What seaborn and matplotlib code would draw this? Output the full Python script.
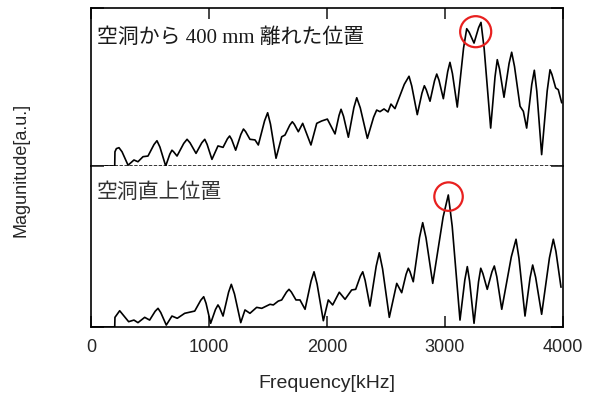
import matplotlib
matplotlib.use("Agg")
import matplotlib.pyplot as plt
import pandas as pd
import seaborn as sns

# ---- data: (frequency kHz, magnitude a.u.) ----
far_points = [
    (0, 0), (201, 0), (203, 0.09), (215, 0.11), (237, 0.116), (263, 0.09), (314, 0.005),
    (364, 0.038), (398, 0.027), (441, 0.059), (483, 0.063), (534, 0.136), (559, 0.16),
    (584, 0.12), (633, 0.0), (668, 0.075), (686, 0.10), (700, 0.09), (729, 0.063),
    (786, 0.143), (814, 0.169), (839, 0.147), (890, 0.08), (939, 0.147), (964, 0.169),
    (984, 0.137), (1025, 0.042), (1076, 0.127), (1119, 0.118), (1156, 0.172), (1175, 0.19),
    (1192, 0.168), (1226, 0.10), (1270, 0.2), (1292, 0.234), (1310, 0.218), (1347, 0.169),
    (1390, 0.165), (1418, 0.133), (1471, 0.286), (1497, 0.337), (1521, 0.265), (1568, 0.049),
    (1616, 0.185), (1644, 0.196), (1685, 0.259), (1706, 0.28), (1723, 0.264), (1757, 0.217),
    (1794, 0.27), (1864, 0.133), (1913, 0.27), (1955, 0.285), (2003, 0.297), (2068, 0.203),
    (2102, 0.32), (2119, 0.359), (2140, 0.315), (2181, 0.182), (2228, 0.37), (2252, 0.432),
    (2282, 0.368), (2342, 0.175), (2395, 0.309), (2421, 0.354), (2449, 0.344), (2483, 0.361),
    (2517, 0.342), (2542, 0.392), (2576, 0.363), (2655, 0.517), (2695, 0.568), (2718, 0.507),
    (2765, 0.325), (2805, 0.462), (2825, 0.508), (2841, 0.483), (2873, 0.41), (2911, 0.539),
    (2930, 0.582), (2949, 0.543), (2986, 0.426), (3023, 0.598), (3042, 0.656), (3063, 0.585),
    (3104, 0.373), (3157, 0.745), (3184, 0.869), (3205, 0.846), (3246, 0.778), (3285, 0.876),
    (3305, 0.909), (3332, 0.742), (3387, 0.24), (3424, 0.565), (3443, 0.673), (3462, 0.614),
    (3500, 0.435), (3543, 0.649), (3565, 0.72), (3589, 0.63), (3636, 0.378), (3664, 0.346),
    (3692, 0.24), (3735, 0.515), (3757, 0.606), (3778, 0.473), (3819, 0.072), (3866, 0.475),
    (3890, 0.609), (3906, 0.58), (3938, 0.494), (3960, 0.483), (3989, 0.40),
]
above_points = [
    (0, 0), (201, 0), (203, 0.06), (243, 0.101), (319, 0.033), (364, 0.043), (398, 0.027),
    (455, 0.06), (497, 0.043), (544, 0.098), (568, 0.116), (591, 0.09), (638, 0.012),
    (686, 0.068), (731, 0.054), (794, 0.085), (879, 0.099), (930, 0.166), (955, 0.188),
    (975, 0.147), (1014, 0.023), (1055, 0.109), (1076, 0.137), (1090, 0.12), (1119, 0.068),
    (1166, 0.216), (1189, 0.265), (1216, 0.205), (1269, 0.027), (1305, 0.106), (1347, 0.085),
    (1404, 0.122), (1447, 0.116), (1517, 0.141), (1545, 0.137), (1587, 0.161), (1616, 0.168),
    (1657, 0.217), (1678, 0.234), (1698, 0.217), (1737, 0.168), (1771, 0.168), (1814, 0.11),
    (1865, 0.285), (1890, 0.343), (1916, 0.267), (1969, 0.039), (2011, 0.168), (2048, 0.137),
    (2104, 0.216), (2153, 0.172), (2209, 0.23), (2243, 0.234), (2283, 0.316), (2303, 0.343),
    (2323, 0.29), (2364, 0.13), (2417, 0.378), (2443, 0.461), (2471, 0.361), (2528, 0.06),
    (2591, 0.271), (2633, 0.213), (2670, 0.327), (2689, 0.365), (2703, 0.344), (2731, 0.281),
    (2784, 0.556), (2811, 0.648), (2839, 0.554), (2896, 0.271), (2984, 0.683), (3028, 0.82),
    (3061, 0.626), (3127, 0.043), (3168, 0.292), (3189, 0.375), (3208, 0.287), (3246, 0.023),
    (3284, 0.28), (3303, 0.365), (3321, 0.332), (3358, 0.234), (3398, 0.343), (3418, 0.379),
    (3439, 0.312), (3481, 0.11), (3562, 0.436), (3602, 0.545), (3627, 0.426), (3678, 0.068),
    (3721, 0.306), (3743, 0.385), (3768, 0.309), (3819, 0.079), (3885, 0.429), (3918, 0.545),
    (3940, 0.47), (3983, 0.247),
]
freq_far = [p[0] for p in far_points]
mag_far = [p[1] for p in far_points]
freq_above = [p[0] for p in above_points]
mag_above = [p[1] for p in above_points]

# highlighted peaks (annotation circles)
circle_far = (3260, 0.85)
circle_above = (3030, 0.81)

xticks = [0, 1000, 2000, 3000, 4000]
label_far = "空洞から 400 mm 離れた位置"
label_above = "空洞直上位置"
xlabel = "Frequency[kHz]"
ylabel = "Magunitude[a.u.]"

sns.set_style("white")
plt.rcParams['font.family'] = ['Liberation Sans', 'Noto Sans CJK JP']

W, H = 595, 396
fig = plt.figure(figsize=(W / 100, H / 100), dpi=100)
left, right = 91, 563
ax_top = fig.add_axes([left / W, 1 - 166 / H, (right - left) / W, (166 - 8) / H])
ax_bot = fig.add_axes([left / W, 1 - 327 / H, (right - left) / W, (327 - 166) / H])

df_far = pd.DataFrame({"freq": freq_far, "mag": mag_far})
df_above = pd.DataFrame({"freq": freq_above, "mag": mag_above})

sns.lineplot(data=df_far, x="freq", y="mag", ax=ax_top, color="black", lw=1.2,
             estimator=None, sort=False, zorder=3)
sns.lineplot(data=df_above, x="freq", y="mag", ax=ax_bot, color="black", lw=1.2,
             estimator=None, sort=False, zorder=3)

for ax in (ax_top, ax_bot):
    ax.set_xlim(0, 4000)
    ax.set_ylim(0, 1)
    ax.set_xticks(xticks)
    ax.set_yticks([0, 1])
    ax.set_xlabel("")
    ax.set_ylabel("")
    for s in ax.spines.values():
        s.set_linewidth(1.2)
        s.set_color("black")
    ax.tick_params(axis="y", which="both", direction="in", left=True, right=True,
                   labelleft=False, labelright=False, length=9, width=1.2)

ax_top.spines["bottom"].set_linestyle((0, (1.2, 2.0)))
ax_top.spines["bottom"].set_linewidth(1.1)
ax_top.tick_params(axis="x", direction="in", top=True, bottom=False,
                   labelbottom=False, labeltop=False, length=8, width=1.2)
ax_bot.spines["top"].set_visible(False)
ax_bot.tick_params(axis="x", direction="in", top=False, bottom=True,
                   labelbottom=True, length=8, width=1.2, pad=9, labelsize=13)
ax_bot.set_xticklabels([str(t) for t in xticks])

ax_top.scatter([circle_far[0]], [circle_far[1]], s=500, facecolors="none",
               edgecolors="#e8201f", linewidths=1.6, zorder=4)
ax_bot.scatter([circle_above[0]], [circle_above[1]], s=420, facecolors="none",
               edgecolors="#e8201f", linewidths=1.6, zorder=4)

ax_top.text(0.013, 0.81, label_far, transform=ax_top.transAxes, ha="left", va="center",
            fontsize=15, color="#1a1a1a", family=['Liberation Serif', 'Noto Sans CJK JP'])
ax_bot.text(0.013, 0.839, label_above, transform=ax_bot.transAxes, ha="left",
            va="center", fontsize=15, color="#333333")

fig.text((left + right) / 2 / W, 1 - 383 / H, xlabel, ha="center", va="center",
         fontsize=14)
fig.text(21 / W, 1 - 170 / H, ylabel, ha="center", va="center", rotation=90,
         fontsize=13)

fig.savefig("out.png", dpi=100)
